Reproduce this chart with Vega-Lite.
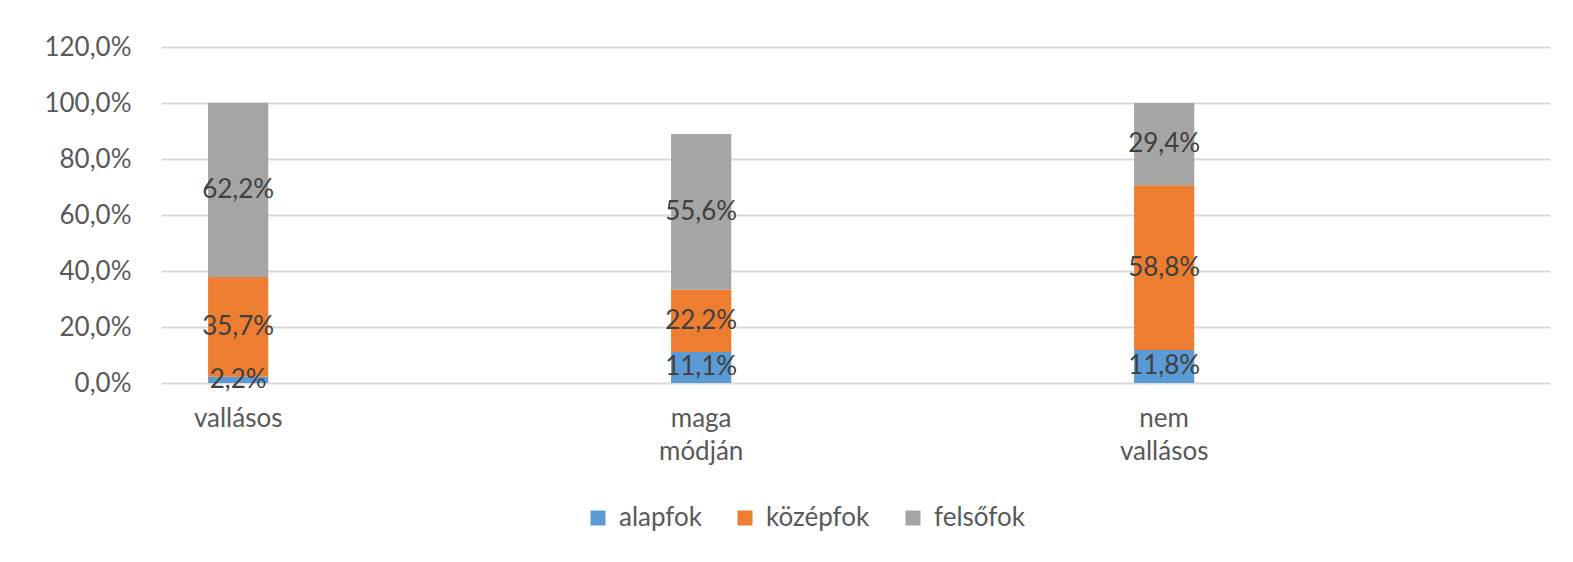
{
  "$schema": "https://vega.github.io/schema/vega-lite/v6.json",
  "width": 1389,
  "height": 336,
  "autosize": "none",
  "padding": {"left": 161, "top": 47, "right": 23, "bottom": 179},
  "background": "white",
  "config": {
    "font": "Lato",
    "view": {"stroke": null},
    "locale": {"number": {"decimal": ",", "thousands": " ", "grouping": [3], "currency": ["", " Ft"]}}
  },
  "data": {
    "values": [
      {"cat": "vallásos", "level": "alapfok", "ord": 1, "value": 0.022},
      {"cat": "vallásos", "level": "középfok", "ord": 2, "value": 0.357},
      {"cat": "vallásos", "level": "felsőfok", "ord": 3, "value": 0.622},
      {"cat": "maga módján", "level": "alapfok", "ord": 1, "value": 0.111},
      {"cat": "maga módján", "level": "középfok", "ord": 2, "value": 0.222},
      {"cat": "maga módján", "level": "felsőfok", "ord": 3, "value": 0.556},
      {"cat": "nem vallásos", "level": "alapfok", "ord": 1, "value": 0.118},
      {"cat": "nem vallásos", "level": "középfok", "ord": 2, "value": 0.588},
      {"cat": "nem vallásos", "level": "felsőfok", "ord": 3, "value": 0.294}
    ]
  },
  "encoding": {
    "x": {
      "field": "cat",
      "type": "nominal",
      "sort": null,
      "title": null,
      "scale": {
        "domain": ["vallásos", "_1", "_2", "maga módján", "_3", "_4", "nem vallásos", "_5", "_6"],
        "paddingInner": 0.61,
        "paddingOuter": 0.305
      },
      "axis": {
        "domain": false,
        "ticks": false,
        "labelAngle": 0,
        "labelFont": "Lato",
        "labelFontSize": 26,
        "labelColor": "#595959",
        "labelPadding": 22,
        "labelLineHeight": 33,
        "labelBaseline": "top",
        "labelExpr": "test(/^_/, datum.label) ? '' : split(datum.label, ' ')"
      }
    }
  },
  "layer": [
    {
      "mark": {"type": "bar"},
      "encoding": {
        "y": {
          "field": "value",
          "type": "quantitative",
          "stack": "zero",
          "title": null,
          "scale": {"domain": [0, 1.2], "nice": false},
          "axis": {
            "values": [0, 0.2, 0.4, 0.6, 0.8, 1.0, 1.2],
            "format": ".1%",
            "domain": false,
            "ticks": false,
            "labelFont": "Lato",
            "labelFontSize": 26,
            "labelColor": "#595959",
            "labelPadding": 30,
            "gridColor": "#d9d9d9",
            "gridWidth": 2
          }
        },
        "color": {
          "field": "level",
          "type": "nominal",
          "sort": ["alapfok", "középfok", "felsőfok"],
          "scale": {"domain": ["alapfok", "középfok", "felsőfok"], "range": ["#5b9bd5", "#ed7d31", "#a5a5a5"]},
          "legend": {
            "title": null,
            "orient": "none",
            "direction": "horizontal",
            "legendX": 424,
            "legendY": 458,
            "symbolType": "square",
            "symbolSize": 225,
            "symbolStrokeWidth": 0,
            "labelFont": "Lato",
            "labelFontSize": 26,
            "labelColor": "#595959",
            "labelOffset": 8,
            "columnPadding": 30
          }
        },
        "order": {"field": "ord", "type": "quantitative"}
      }
    },
    {
      "mark": {"type": "text", "font": "Lato", "fontSize": 26, "color": "#404040", "baseline": "middle"},
      "encoding": {
        "y": {"field": "value", "type": "quantitative", "stack": "zero", "bandPosition": 0.5},
        "text": {"field": "value", "type": "quantitative", "format": ".1%"},
        "detail": {"field": "level"},
        "order": {"field": "ord", "type": "quantitative"}
      }
    }
  ]
}
